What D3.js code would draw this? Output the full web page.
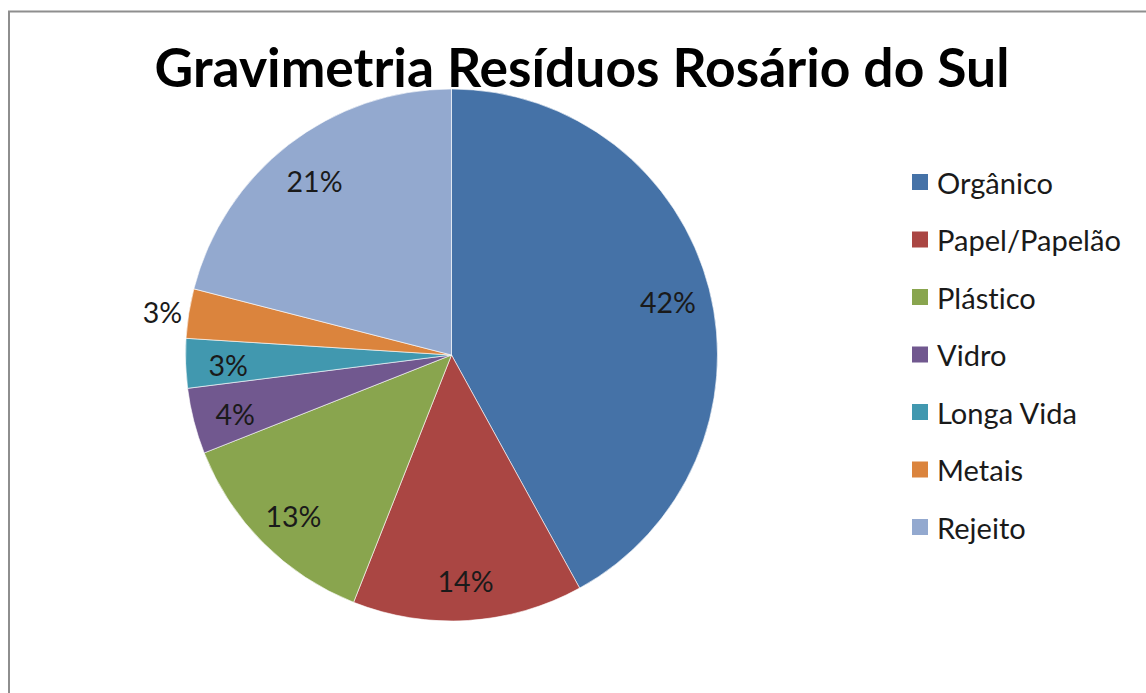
<!DOCTYPE html>
<html>
<head>
<meta charset="utf-8">
<script src="https://cdn.jsdelivr.net/npm/d3@7"></script>
<style>
  html, body { margin: 0; padding: 0; background: #fff; }
  svg { display: block; }
  text { font-family: Lato, "Open Sans", sans-serif; font-variant-ligatures: none; font-feature-settings: "liga" 0, "clig" 0; }
</style>
</head>
<body>
<svg id="chart" width="1146" height="693"></svg>
<script>
// ---- data ----
const title = "Gravimetria Resíduos Rosário do Sul";
const categories = ["Orgânico", "Papel/Papelão", "Plástico", "Vidro", "Longa Vida", "Metais", "Rejeito"];
const values = [42, 14, 13, 4, 3, 3, 21];
const colors = ["#4572A7", "#AA4643", "#89A54E", "#71588F", "#4198AF", "#DB843D", "#93A9CF"];

// ---- layout ----
const W = 1146, H = 693;
const cx = 451.5, cy = 355, R = 266;
const svg = d3.select("#chart");

// frame of the chart area (extends beyond right/bottom of the photo)
svg.append("rect")
  .attr("x", 9).attr("y", 11.5)
  .attr("width", W + 20).attr("height", H + 20)
  .attr("fill", "#fff")
  .attr("stroke", "#8e8e8e").attr("stroke-width", 2);

function fit(sel, target) {
  const base = 40;
  sel.attr("font-size", base);
  const w = sel.node().getComputedTextLength();
  const fs = base * target / w;
  sel.attr("font-size", fs);
  return fs;
}

const data = categories.map((c, i) => ({ name: c, value: values[i], color: colors[i] }));

const pie = d3.pie().value(d => d.value).sort(null);
const arcs = pie(data);
const arc = d3.arc().innerRadius(0).outerRadius(R);

const g = svg.append("g").attr("transform", `translate(${cx},${cy})`);
g.selectAll("path.slice")
  .data(arcs)
  .join("path")
  .attr("class", "slice")
  .attr("d", arc)
  .attr("fill", d => d.data.color)
  .attr("stroke", "#fff")
  .attr("stroke-width", 0.6);

// data labels: inside near the rim, the small Metais slice outside
const labelArcIn = d3.arc().innerRadius(R * 0.84).outerRadius(R * 0.84);
const labelArcOut = d3.arc().innerRadius(R * 1.1).outerRadius(R * 1.1);
const labels = g.selectAll("text.lbl")
  .data(arcs)
  .join("text")
  .attr("class", "lbl")
  .attr("text-anchor", "middle")
  .attr("dominant-baseline", "central")
  .attr("fill", "#1a1a1a")
  .attr("transform", d => {
    const p = (d.data.name === "Metais" ? labelArcOut : labelArcIn).centroid(d);
    return `translate(${p[0]},${p[1] + 3})`;
  })
  .text(d => d.data.value + "%");
const lblFs = fit(labels.filter((d, i) => i === 0), 56);
labels.attr("font-size", lblFs);

// title
const t = svg.append("text")
  .attr("x", 582).attr("y", 87)
  .attr("text-anchor", "middle")
  .attr("font-weight", "bold")
  .attr("fill", "#000")
  .text(title);
fit(t, 855);

// legend
const lg = svg.append("g").attr("transform", "translate(912,182)");
const items = lg.selectAll("g.item")
  .data(data)
  .join("g")
  .attr("class", "item")
  .attr("transform", (d, i) => `translate(0,${i * 57.5})`);
items.append("rect")
  .attr("x", 0).attr("y", -8)
  .attr("width", 16).attr("height", 16)
  .attr("fill", d => d.color);
const ltexts = items.append("text")
  .attr("x", 25).attr("y", 0)
  .attr("dominant-baseline", "central")
  .attr("fill", "#1a1a1a")
  .text(d => d.name);
const lfs = fit(ltexts.filter((d, i) => i === 1), 184);
ltexts.attr("font-size", lfs);
</script>
</body>
</html>
